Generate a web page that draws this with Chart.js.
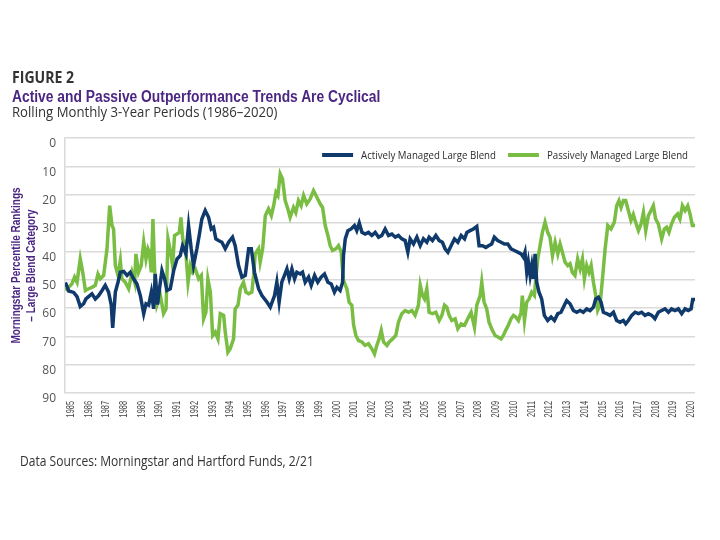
<!DOCTYPE html>
<html lang="en">
<head>
<meta charset="UTF-8">
<title>Figure 2</title>
<script src="https://cdn.jsdelivr.net/npm/chart.js"></script>
<style>
  body { margin: 0; width: 720px; height: 540px; background: #fff; position: relative; overflow: hidden; font-family: "Open Sans", sans-serif; }
  #chart { position: absolute; left: 0; top: 0; }
  .txt { position: absolute; white-space: nowrap; transform-origin: 0 0; }
  #fig { left: 12px; top: 69px; font-size: 16px; line-height: 16px; font-weight: 700; color: #333; transform: scaleX(0.88); }
  #title { left: 12px; top: 89px; font-family: "Liberation Sans", Arial, sans-serif; font-size: 16px; line-height: 16px; font-weight: 700; color: #4b2682; transform: scaleX(0.864); }
  #sub { left: 12px; top: 105px; font-size: 14px; line-height: 14px; color: #333; transform: scaleX(0.94); }
  #src { left: 20px; top: 454px; font-size: 14px; line-height: 14px; color: #333; transform: scaleX(0.86); }
</style>
</head>
<body>
<canvas id="chart" width="720" height="540"></canvas>
<div class="txt" id="fig">FIGURE 2</div>
<div class="txt" id="title">Active and Passive Outperformance Trends Are Cyclical</div>
<div class="txt" id="sub">Rolling Monthly 3-Year Periods (1986–2020)</div>
<div class="txt" id="src">Data Sources: Morningstar and Hartford Funds, 2/21</div>

<script>
// year labels on the x axis
const yearTicks = [1985, 1986, 1987, 1988, 1989, 1990, 1991, 1992, 1993, 1994, 1995, 1996,
  1997, 1998, 1999, 2000, 2001, 2002, 2003, 2004, 2005, 2006, 2007, 2008, 2009, 2010,
  2011, 2012, 2013, 2014, 2015, 2016, 2017, 2018, 2019, 2020];

const yTitle = ['Morningstar Percentile Rankings', '– Large Blend Category'];

// Actively Managed Large Blend (percentile rank)
const activeYears = [1984.68, 1984.87, 1985.15, 1985.34, 1985.52, 1985.71, 1985.84, 1985.99, 1986.18, 1986.37,
  1986.56, 1986.75, 1986.93, 1987.12, 1987.27, 1987.35, 1987.50, 1987.65, 1987.78, 1987.97,
  1988.16, 1988.34, 1988.53, 1988.72, 1988.91, 1989.10, 1989.23, 1989.38, 1989.53, 1989.66,
  1989.75, 1989.88, 1989.99, 1990.13, 1990.28, 1990.41, 1990.60, 1990.79, 1990.98, 1991.16,
  1991.29, 1991.48, 1991.63, 1991.78, 1991.91, 1992.10, 1992.23, 1992.38, 1992.57, 1992.76,
  1992.91, 1993.04, 1993.17, 1993.32, 1993.51, 1993.70, 1993.89, 1994.11, 1994.26, 1994.45,
  1994.64, 1994.83, 1995.02, 1995.17, 1995.35, 1995.58, 1995.77, 1996.05, 1996.24, 1996.48,
  1996.61, 1996.74, 1996.89, 1997.04, 1997.18, 1997.31, 1997.46, 1997.61, 1997.74, 1997.93,
  1998.06, 1998.21, 1998.40, 1998.55, 1998.74, 1998.92, 1999.11, 1999.30, 1999.49, 1999.68,
  1999.86, 2000.00, 2000.18, 2000.32, 2000.37, 2000.47, 2000.62, 2000.80, 2000.99, 2001.12,
  2001.26, 2001.41, 2001.59, 2001.78, 2001.97, 2002.16, 2002.35, 2002.53, 2002.72, 2002.91,
  2003.10, 2003.29, 2003.47, 2003.66, 2003.85, 2004.00, 2004.13, 2004.32, 2004.51, 2004.70,
  2004.88, 2005.07, 2005.20, 2005.39, 2005.58, 2005.77, 2005.95, 2006.10, 2006.26, 2006.44,
  2006.63, 2006.82, 2007.01, 2007.20, 2007.33, 2007.51, 2007.70, 2007.89, 2008.02, 2008.21,
  2008.40, 2008.55, 2008.73, 2008.88, 2009.07, 2009.26, 2009.45, 2009.64, 2009.82, 2010.01,
  2010.20, 2010.39, 2010.52, 2010.61, 2010.71, 2010.80, 2010.90, 2010.99, 2011.08, 2011.18,
  2011.27, 2011.40, 2011.55, 2011.70, 2011.89, 2012.08, 2012.27, 2012.46, 2012.64, 2012.83,
  2012.96, 2013.15, 2013.34, 2013.53, 2013.72, 2013.90, 2014.09, 2014.28, 2014.47, 2014.60,
  2014.75, 2014.90, 2015.03, 2015.22, 2015.41, 2015.60, 2015.78, 2015.97, 2016.16, 2016.29,
  2016.44, 2016.63, 2016.82, 2017.01, 2017.19, 2017.38, 2017.57, 2017.76, 2017.94, 2018.13,
  2018.32, 2018.51, 2018.70, 2018.88, 2019.07, 2019.26, 2019.45, 2019.64, 2019.82, 2019.98,
  2020.07, 2020.20];
const activeValues = [51, 54, 54.5, 56, 59.5, 58.5, 56.8, 56, 55, 56.8,
  55.6, 53.8, 52, 54.4, 59, 67, 54.4, 50.9, 47.4, 47.1,
  48.5, 47.4, 49.7, 51.5, 55.6, 62, 58.5, 59, 54.4, 60.3,
  48, 58.8, 53.2, 46.8, 49.7, 53.8, 53.2, 46.8, 42.7, 41.5,
  38, 40.9, 30.9, 39.1, 45, 39.1, 34.4, 28.6, 25.6, 28,
  32.1, 31.5, 35.6, 36.2, 36.8, 39.1, 36.8, 35, 38, 45,
  49.1, 48.5, 39.1, 39.1, 47.4, 53.2, 55.6, 57.9, 59.7, 55.6,
  50.9, 57.9, 50.9, 48.5, 46.2, 49.7, 46.2, 49.7, 47.4, 48,
  47.4, 50.9, 49.1, 52, 48.5, 50.9, 49.1, 48, 50.9, 51.5,
  54.4, 52.7, 53.8, 50.9, 41.5, 35.6, 32.7, 32.1, 30.9, 32.7,
  30, 33.3, 33.9, 33.3, 34.4, 33.3, 35, 34.4, 32.1, 34.4,
  33.9, 35, 34.4, 35.6, 36.2, 40.3, 35.6, 37.4, 35, 38,
  35.6, 36.8, 35, 36.2, 34.4, 36.2, 36.8, 39.1, 40.3, 38,
  35.6, 36.8, 34.4, 35.6, 33.3, 32.7, 32.1, 31.2, 38, 38,
  38.6, 38, 37.4, 35, 36.2, 36.8, 37.4, 37.4, 39.1, 39.7,
  40.3, 40.9, 42.1, 40.3, 47.4, 43.8, 48.5, 45, 49.7, 40.9,
  50.9, 54.4, 56.8, 62.6, 64.4, 63.2, 64.4, 62, 61.5, 59,
  57.4, 58.5, 60.9, 61.5, 60.9, 61.5, 60.3, 60.9, 59.7, 56.8,
  56.2, 57.9, 61.5, 62, 62.6, 61.5, 64.4, 65, 64.4, 65.6,
  64.4, 62.6, 61.5, 62, 61.5, 62.6, 62, 62.6, 63.8, 61.5,
  60.9, 60.3, 61.5, 60.3, 60.9, 60.3, 62, 60.3, 60.9, 60.3,
  57, 57];

// Passively Managed Large Blend
const passiveYears = [1984.68, 1984.87, 1985.05, 1985.20, 1985.34, 1985.52, 1985.66, 1985.81, 1985.99, 1986.18,
  1986.37, 1986.52, 1986.65, 1986.84, 1987.03, 1987.18, 1987.31, 1987.40, 1987.50, 1987.65,
  1987.78, 1987.87, 1988.06, 1988.25, 1988.44, 1988.59, 1988.66, 1988.81, 1988.96, 1989.10,
  1989.23, 1989.34, 1989.42, 1989.53, 1989.62, 1989.72, 1989.85, 1990.04, 1990.22, 1990.36,
  1990.47, 1990.60, 1990.73, 1990.84, 1990.98, 1991.11, 1991.20, 1991.30, 1991.45, 1991.60,
  1991.73, 1991.86, 1992.01, 1992.20, 1992.35, 1992.48, 1992.61, 1992.72, 1992.86, 1992.99,
  1993.14, 1993.29, 1993.42, 1993.61, 1993.70, 1993.85, 1993.98, 1994.17, 1994.26, 1994.42,
  1994.55, 1994.73, 1994.87, 1995.02, 1995.20, 1995.30, 1995.39, 1995.58, 1995.67, 1995.81,
  1995.96, 1996.14, 1996.30, 1996.43, 1996.56, 1996.67, 1996.80, 1996.93, 1997.08, 1997.23,
  1997.36, 1997.55, 1997.68, 1997.83, 1997.98, 1998.12, 1998.30, 1998.49, 1998.68, 1998.87,
  1999.06, 1999.19, 1999.34, 1999.49, 1999.62, 1999.75, 1999.94, 2000.09, 2000.24, 2000.37,
  2000.56, 2000.69, 2000.84, 2000.94, 2001.07, 2001.22, 2001.41, 2001.59, 2001.78, 2001.97,
  2002.12, 2002.25, 2002.38, 2002.50, 2002.63, 2002.82, 2002.95, 2003.14, 2003.32, 2003.47,
  2003.66, 2003.85, 2004.04, 2004.23, 2004.41, 2004.60, 2004.70, 2004.83, 2004.94, 2005.07,
  2005.20, 2005.39, 2005.58, 2005.77, 2005.92, 2006.07, 2006.20, 2006.33, 2006.48, 2006.67,
  2006.82, 2007.01, 2007.20, 2007.38, 2007.57, 2007.76, 2007.89, 2008.08, 2008.17, 2008.30,
  2008.45, 2008.58, 2008.73, 2008.92, 2009.11, 2009.26, 2009.39, 2009.52, 2009.67, 2009.82,
  2009.96, 2010.09, 2010.24, 2010.39, 2010.46, 2010.58, 2010.71, 2010.84, 2010.99, 2011.14,
  2011.22, 2011.33, 2011.46, 2011.59, 2011.74, 2011.89, 2012.02, 2012.16, 2012.31, 2012.46,
  2012.59, 2012.72, 2012.87, 2013.02, 2013.15, 2013.28, 2013.43, 2013.58, 2013.72, 2013.85,
  2013.96, 2014.09, 2014.22, 2014.34, 2014.47, 2014.60, 2014.71, 2014.84, 2014.98, 2015.13,
  2015.28, 2015.46, 2015.65, 2015.78, 2015.91, 2016.03, 2016.16, 2016.29, 2016.44, 2016.59,
  2016.72, 2016.85, 2017.01, 2017.16, 2017.29, 2017.42, 2017.57, 2017.72, 2017.85, 2017.98,
  2018.13, 2018.32, 2018.47, 2018.60, 2018.73, 2018.88, 2019.04, 2019.22, 2019.35, 2019.49,
  2019.64, 2019.79, 2019.92, 2020.05, 2020.20];
const passiveValues = [53.8, 52.7, 51.5, 49.1, 50.9, 42.7, 47.4, 53.8, 53.2, 52.7,
  52, 48, 49.7, 48.5, 39.1, 23.9, 30.9, 32.1, 45, 48.5,
  43.3, 49.7, 50.9, 53.2, 47.4, 50.9, 40.9, 47.4, 45, 36.8,
  42.7, 39.1, 40.3, 47.4, 28.6, 47.4, 59, 55.6, 62, 60.3,
  35.6, 39.7, 45, 34.4, 33.9, 33.3, 28, 35.6, 38, 50.9,
  45, 47.4, 46.2, 49.7, 48.5, 63.8, 61.5, 49.7, 54.4, 69.7,
  68.5, 70.9, 62, 62.6, 68.5, 75.6, 74.4, 70.9, 60.3, 59,
  53.2, 50.9, 54.4, 55, 54.4, 48.5, 40.9, 39.1, 43.8, 39.1,
  27.4, 25, 27.4, 23.9, 19.2, 20.3, 12.7, 14.5, 22.1, 25,
  28, 24.5, 26.3, 22.1, 23.9, 20.3, 23.3, 21.5, 18.6, 20.9,
  23.3, 24.5, 30.9, 34.4, 38, 39.7, 39.1, 38, 40.3, 50.3,
  53.2, 58, 59, 66, 69.7, 71.5, 72, 73.2, 72.6, 74.4,
  76.2, 73.2, 70.9, 67.9, 72, 73.2, 72, 70.9, 69.7, 65,
  62, 60.9, 61.5, 60.9, 62.6, 59, 52, 55.6, 56.8, 53.2,
  61.5, 62, 61.5, 64.4, 62.6, 59, 59.7, 62.6, 64.4, 63.8,
  67.3, 65.6, 66.1, 63.8, 61.5, 66.8, 59, 55.6, 50.9, 57.9,
  60.3, 65, 67.3, 69.7, 70.3, 70.9, 69.7, 67.9, 66.1, 63.8,
  62.6, 63.2, 64.4, 61.5, 55.6, 64.4, 57.9, 56.8, 54.4, 55.6,
  49.7, 42.7, 38, 33.3, 29.7, 33.3, 35, 41.5, 36.8, 40.9,
  37.4, 40.3, 43.8, 45, 44.4, 47.4, 48.5, 42.7, 46.2, 42.7,
  49.7, 45, 47.4, 45, 50.9, 55.6, 60.9, 59, 49.7, 39.1,
  30.9, 32.1, 29.7, 23.9, 22.1, 24.5, 22.1, 22.1, 25.6, 29.1,
  27, 29.7, 32.7, 30.3, 26.3, 32.7, 27.4, 25.6, 23.9, 28.6,
  30.3, 35.6, 32.1, 31.5, 33.3, 30.3, 28, 26.8, 28.6, 23.9,
  25.6, 23.9, 26.8, 30.9, 30.9];

const NAVY = '#0f3a6b';
const GREEN = '#79bd43';
const PURPLE = '#4b2682';

// legend drawn inside the plot, top right (text slightly condensed like the original)
const insideLegend = {
  id: 'insideLegend',
  afterDraw(chart) {
    const ctx = chart.ctx;
    const y = 155, right = 688, squeeze = 0.88;
    ctx.save();
    ctx.font = '11px "Open Sans"';
    ctx.textBaseline = 'middle';
    const items = chart.data.datasets.map(ds => {
      const tw = ctx.measureText(ds.label).width * squeeze;
      return { ds, tw, w: 31 + 8 + tw };
    });
    const total = items.reduce((s, it) => s + it.w, 0) + 12 * (items.length - 1);
    let x = right - total;
    items.forEach(it => {
      ctx.strokeStyle = it.ds.borderColor;
      ctx.lineWidth = 4;
      ctx.beginPath();
      ctx.moveTo(x, y);
      ctx.lineTo(x + 31, y);
      ctx.stroke();
      ctx.save();
      ctx.translate(x + 39, y + 0.5);
      ctx.scale(squeeze, 1);
      ctx.fillStyle = '#2b2b2b';
      ctx.fillText(it.ds.label, 0, 0);
      ctx.restore();
      x += it.w + 12;
    });
    ctx.restore();
  }
};

// narrow (condensed) year labels and y-axis title, placed from the scales
const narrowText = {
  id: 'narrowText',
  afterDraw(chart) {
    const ctx = chart.ctx;
    const xs = chart.scales.x, ys = chart.scales.y;
    ctx.save();
    ctx.fillStyle = '#444';
    ctx.font = '10px "Liberation Sans"';
    ctx.textAlign = 'right';
    ctx.textBaseline = 'middle';
    xs.ticks.forEach(t => {
      ctx.save();
      ctx.translate(xs.getPixelForValue(t.value), xs.top + 8);
      ctx.rotate(-Math.PI / 2);
      ctx.scale(0.74, 1);
      ctx.fillText(String(t.value), 0, 0);
      ctx.restore();
    });
    const cy = (ys.top + ys.bottom) / 2;
    ctx.fillStyle = PURPLE;
    ctx.font = 'bold 12.5px "Liberation Sans"';
    ctx.textAlign = 'center';
    yTitle.forEach((line, i) => {
      ctx.save();
      ctx.translate(17 + i * 15, cy);
      ctx.rotate(-Math.PI / 2);
      ctx.scale(0.8, 1);
      ctx.fillText(line, 0, 0);
      ctx.restore();
    });
    ctx.restore();
  }
};

const toPoints = (xs, ys) => xs.map((x, i) => ({ x: x, y: ys[i] }));

new Chart(document.getElementById('chart').getContext('2d'), {
  type: 'line',
  data: {
    datasets: [{
      label: 'Actively Managed Large Blend',
      data: toPoints(activeYears, activeValues),
      borderColor: NAVY,
      backgroundColor: NAVY,
      borderWidth: 3.5,
      pointRadius: 0,
      tension: 0
    }, {
      label: 'Passively Managed Large Blend',
      data: toPoints(passiveYears, passiveValues),
      borderColor: GREEN,
      backgroundColor: GREEN,
      borderWidth: 3.5,
      pointRadius: 0,
      tension: 0
    }]
  },
  options: {
    responsive: false,
    animation: false,
    devicePixelRatio: 1,
    layout: { padding: { top: 138, right: 25, bottom: 107, left: 0 } },
    plugins: {
      legend: { display: false },
      tooltip: { enabled: false }
    },
    scales: {
      x: {
        type: 'linear',
        min: 1984.66,
        max: 2020.2,
        afterBuildTicks: scale => { scale.ticks = yearTicks.map(v => ({ value: v })); },
        afterFit: scale => { scale.height = 40; },
        grid: { display: false, drawTicks: false },
        border: { display: false },
        ticks: { display: false }
      },
      y: {
        min: 0,
        max: 90,
        reverse: true,
        afterFit: scale => { scale.width = 65; },
        grid: { color: '#dadada', lineWidth: 1.5, drawTicks: false },
        border: { display: true, color: '#dadada', width: 1.5 },
        ticks: {
          stepSize: 10,
          padding: 9,
          labelOffset: 6,
          color: '#555',
          font: { family: '"Open Sans"', size: 12 }
        }
      }
    }
  },
  plugins: [insideLegend, narrowText]
});
</script>
</body>
</html>
